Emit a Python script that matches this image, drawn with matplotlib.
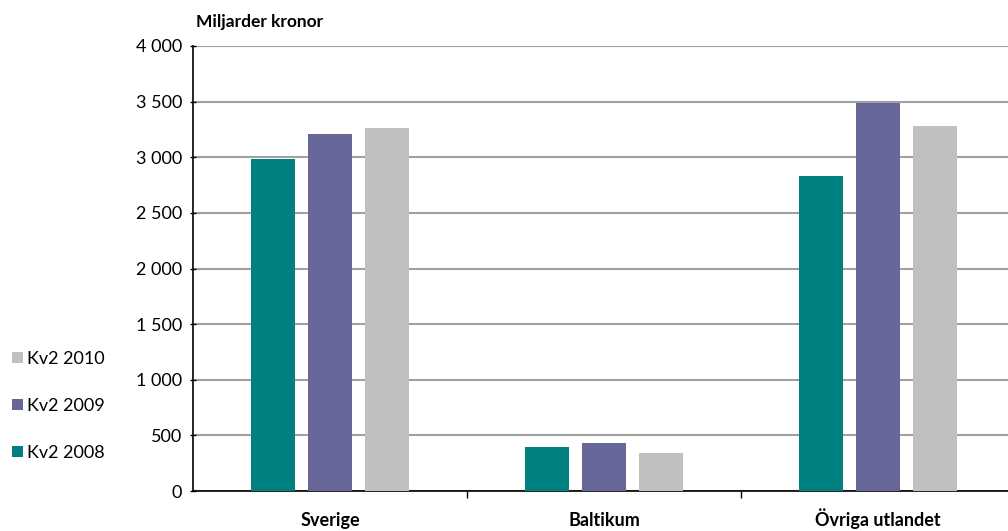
import matplotlib
matplotlib.use("Agg")
import matplotlib.pyplot as plt
from matplotlib.patches import Patch
from matplotlib import font_manager
import numpy as np

categories = ["Sverige", "Baltikum", "Övriga utlandet"]
series_names = ["Kv2 2008", "Kv2 2009", "Kv2 2010"]
kv2_2008 = [2980, 395, 2830]
kv2_2009 = [3205, 432, 3490]
kv2_2010 = [3260, 342, 3285]
colors = ["#008080", "#666699", "#C0C0C0"]
yticks = [0, 500, 1000, 1500, 2000, 2500, 3000, 3500, 4000]
ytick_labels = ["0", "500", "1 000", "1 500", "2 000", "2 500", "3 000", "3 500", "4 000"]

names = {f.name for f in font_manager.fontManager.ttflist}
fam = [n for n in ['DejaVu Sans Condensed', 'Liberation Sans Narrow', 'Lato'] if n in names] + ['DejaVu Sans']
plt.rcParams['font.family'] = fam
fs = 13

fig = plt.figure(figsize=(10.08, 5.31), dpi=100)
ax = fig.add_axes([193/1008, 40/531, 822/1008, 445/531])

x = np.arange(len(categories))
w = 0.16
step = 57/274
for i, (vals, c) in enumerate(zip([kv2_2008, kv2_2009, kv2_2010], colors)):
    ax.bar(x + (i - 1) * step, vals, width=w, color=c, zorder=3)

ax.set_xlim(-0.5, 2.5)
ax.set_ylim(0, 4000)
ax.set_yticks(yticks)
ax.set_yticklabels(ytick_labels, fontsize=fs)
ax.yaxis.grid(True, color="#a0a0a0", linewidth=1.5, zorder=0)
ax.set_axisbelow(True)

ax.set_xticks(x)
ax.set_xticklabels(categories, fontsize=fs, fontweight='bold')
for lab in ax.get_xticklabels():
    lab.set_verticalalignment('baseline')
ax.tick_params(axis='x', length=0, pad=25.5)
ax.set_xticks([0.5, 1.5], minor=True)
ax.tick_params(axis='x', which='minor', length=5, direction='out', width=1)
ax.tick_params(axis='y', length=5, direction='inout', width=1, pad=5.5)

for s in ['top', 'right']:
    ax.spines[s].set_visible(False)
ax.spines['left'].set_linewidth(1.2)
ax.spines['bottom'].set_linewidth(1.2)

fig.text(196/1008, 1 - 22/531, "Miljarder kronor", fontsize=12.5, fontweight='bold', va='center', ha='left')

handles = [Patch(facecolor=colors[i], edgecolor='none') for i in [2, 1, 0]]
labels = [series_names[i] for i in [2, 1, 0]]
fig.legend(handles, labels, loc='center left', bbox_to_anchor=(12/1008, 1 - 406/531),
           frameon=False, fontsize=fs, labelspacing=1.72, handlelength=0.6,
           handleheight=0.6, handletextpad=0.25, borderpad=0, borderaxespad=0)

fig.savefig("out.png", dpi=100)
